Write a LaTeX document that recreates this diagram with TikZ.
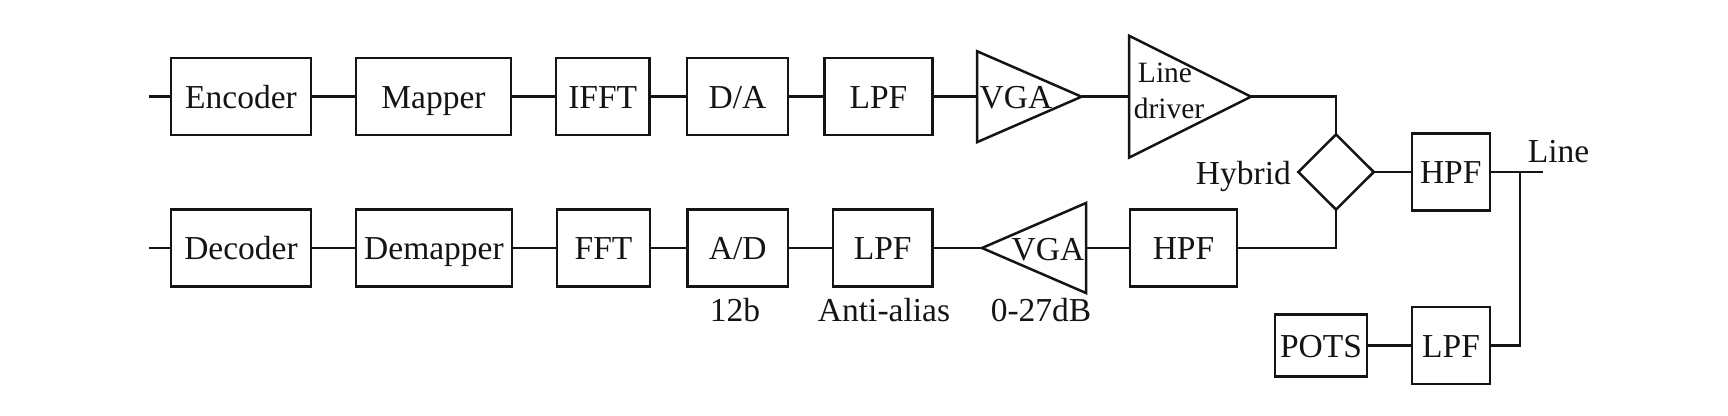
\documentclass[tikz,border=0pt]{standalone}
\usepackage{fontspec}
\setmainfont{Liberation Serif}
\usepackage{tikz}
\usetikzlibrary{positioning,shapes.geometric}
\definecolor{ink}{HTML}{141414}

\begin{document}
\begin{tikzpicture}[
  x=1pt, y=-1pt,
  font=\fontsize{33.5}{38}\selectfont,
  text=ink,
  blk/.style={draw=ink, line width=2.5pt, minimum height=77pt, inner sep=0pt, outer sep=0pt,
              text height=23pt, text depth=0pt},
  tri/.style={draw=ink, line width=2.5pt, isosceles triangle, isosceles triangle stretches,
              inner sep=0pt, outer sep=0pt},
  hybshape/.style={draw=ink, line width=2.5pt, diamond, inner sep=0pt, outer sep=0pt,
                   minimum width=75.5pt, minimum height=75pt},
  lab/.style={inner sep=0pt, anchor=base},
  flow/.style={draw=ink, line width=2.5pt},
]
\useasboundingbox (0,0) rectangle (1728,415);

% transmit path
\node[blk, minimum width=140pt] (enc) at (241,96.7) {Encoder};
\node[blk, minimum width=155pt, right=45pt of enc] (map) {Mapper};
\node[blk, minimum width=93.5pt, right=45pt of map] (ifft) {IFFT};
\node[blk, minimum width=101pt, right=37.5pt of ifft] (da) {D/A};
\node[blk, minimum width=108pt, right=36.5pt of da] (lpftx) {LPF};
\node[tri, minimum width=91pt, minimum height=104.5pt, right=44.5pt of lpftx] (vgatx) {};
\node[tri, minimum width=122pt, minimum height=122pt, right=47.5pt of vgatx] (drv) {};
\node[lab] (vgatxlab) at (1016,108) {VGA};
\node[lab, font=\fontsize{29.5}{34}\selectfont] (linelab) at (1165,82) {Line};
\node[lab, font=\fontsize{29.5}{34}\selectfont] (drvlab) at (1169,118) {driver};

% receive path
\node[blk, minimum width=140pt] (dec) at (241,248) {Decoder};
\node[blk, minimum width=156pt, right=45pt of dec] (dmap) {Demapper};
\node[blk, minimum width=93pt, right=45pt of dmap] (fft) {FFT};
\node[blk, minimum width=100.5pt, right=37.5pt of fft] (ad) {A/D};
\node[blk, minimum width=99.5pt, right=45pt of ad] (lpfrx) {LPF};
\node[tri, shape border rotate=180, minimum width=90pt, minimum height=104pt,
      right=49.5pt of lpfrx] (vgarx) {};
\node[blk, minimum width=107pt, right=44pt of vgarx] (hpfrx) {HPF};
\node[lab] (vgarxlab) at (1048,260) {VGA};

\node[lab] (adlab) at (735,321) {12b};
\node[lab] (lpflab) at (884,321) {Anti-alias};
\node[lab] (vgalab) at (1041,321) {0-27dB};

% line side
\node[hybshape] (hyb) at (1336,172) {};
\node[lab, anchor=base east] (hyblab) at (1291,184) {Hybrid};
\node[blk, minimum width=78pt, right=38pt of hyb] (hpfl) {HPF};
\node[blk, minimum width=78pt] (lpfl) at (1451,345.5) {LPF};
\node[blk, minimum width=92pt, minimum height=62pt, left=45pt of lpfl] (pots) {POTS};
\node[lab] (linetxt) at (1558.5,162) {Line};

\coordinate (encin) at (149,96.7);
\coordinate (decin) at (149,248);
\coordinate (lineend) at (1543,172);
\coordinate (tap) at (1520,172);

\foreach \a/\b in {encin/enc, enc/map, map/ifft, ifft/da, da/lpftx, lpftx/vgatx, vgatx/drv,
                   decin/dec, dec/dmap, dmap/fft, fft/ad, ad/lpfrx, lpfrx/vgarx, vgarx/hpfrx,
                   hyb/hpfl, hpfl/lineend, pots/lpfl}
  \draw[flow] (\a) -- (\b);

\draw[flow] (drv.east) -| (hyb.north);
\draw[flow] (hpfrx.east) -| (hyb.south);
\draw[flow] (lpfl.east) -| (tap);

\end{tikzpicture}
\end{document}
